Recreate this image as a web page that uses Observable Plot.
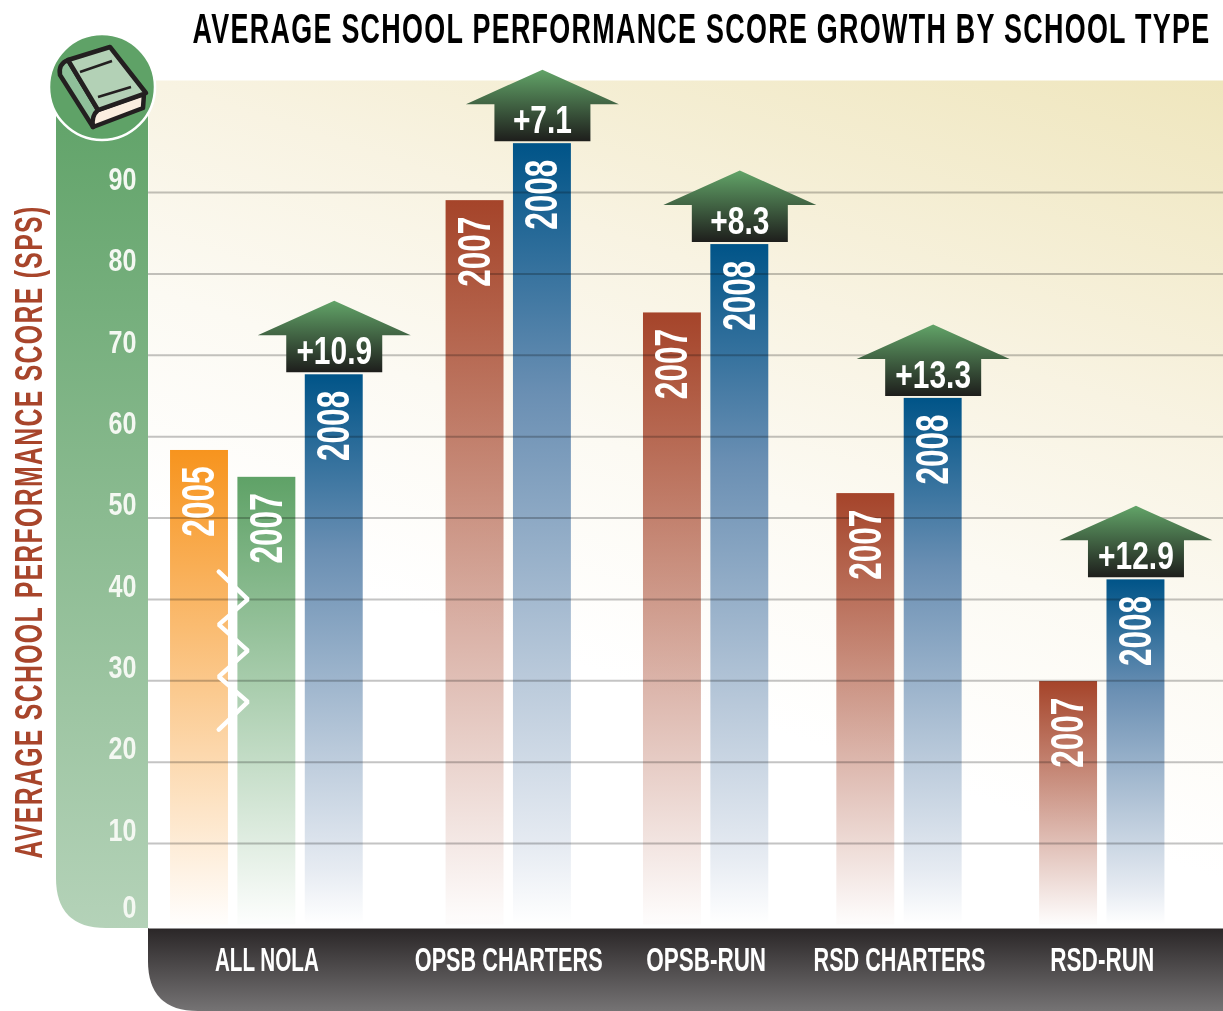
<!DOCTYPE html>
<html>
<head>
<meta charset="utf-8">
<script src="https://cdn.jsdelivr.net/npm/d3@7"></script>
<script src="https://cdn.jsdelivr.net/npm/@observablehq/plot@0.6"></script>
<style>
  html, body { margin: 0; padding: 0; background: #fff; }
  svg { display: block; }
</style>
</head>
<body>
<div id="root"></div>
<script>
// ---- chart values ----
const chartTitle = "AVERAGE SCHOOL PERFORMANCE SCORE GROWTH BY SCHOOL TYPE";
const yLabel = "AVERAGE SCHOOL PERFORMANCE SCORE (SPS)";
const categories = ["ALL NOLA", "OPSB CHARTERS", "OPSB-RUN", "RSD CHARTERS", "RSD-RUN"];
const score2005 = [58.3, null, null, null, null];
const score2007 = [55.0, 89.0, 75.2, 53.0, 29.9];
const score2008 = [67.6, 96.0, 83.6, 64.7, 42.4];
const growthLabels = ["+10.9", "+7.1", "+8.3", "+13.3", "+12.9"];
const gridTicks = [10, 20, 30, 40, 50, 60, 70, 80, 90];
// break marker between the 2005 and 2007 bars: score values of the zigzag vertices
const breakScores = [43.4, 40.0, 36.9, 33.7, 30.5, 27.4, 24.0];

// ---- layout (in units of one bar step), separate from values ----
const groupSlots = [0, 4.09, 7.02, 9.89, 12.9];
const barHalf = 0.43;
const font = "'Liberation Sans', sans-serif";

const bars = [];
categories.forEach((c, i) => {
  const years = i === 0 ? [["2005", score2005[i]], ["2007", score2007[i]], ["2008", score2008[i]]]
                        : [["2007", score2007[i]], ["2008", score2008[i]]];
  years.forEach(([year, value], k) => bars.push({
    category: c, year, value, slot: groupSlots[i] + k,
    grad: year === "2005" ? "orange" : year === "2008" ? "blue" : i === 0 ? "green" : "rust"
  }));
});
const heads = bars.filter(d => d.year === "2008").map((d, i) => ({...d, label: growthLabels[i]}));
const cats = categories.map((c, i) => {
  const g = bars.filter(d => d.category === c);
  return {c, slot: (g[0].slot + g[g.length - 1].slot) / 2};
});
const zig = breakScores.map((v, i) => ({v, slot: i % 2 ? 0.717 : 0.286}));

const NS = "http://www.w3.org/2000/svg";
function frag(tag, html) { const e = document.createElementNS(NS, tag); e.innerHTML = html; return e; }
const gradDef = (id, color) => `<linearGradient id="${id}" x1="0" y1="0" x2="0" y2="1">
  <stop offset="0" stop-color="${color}"/><stop offset="0.99" stop-color="${color}" stop-opacity="0.02"/></linearGradient>`;

const defs = () => frag("defs", `
  ${gradDef("orange", "#f7941e")}${gradDef("green", "#5fa267")}${gradDef("rust", "#a5442a")}
  <linearGradient id="blue" x1="0" y1="0" x2="0" y2="1">
    <stop offset="0" stop-color="#005488"/><stop offset="0.32" stop-color="#6a8fb3"/><stop offset="0.68" stop-color="#b9c9da"/>
    <stop offset="0.9" stop-color="#e6ebf2"/><stop offset="1" stop-color="#ffffff"/></linearGradient>
  <linearGradient id="arrow" x1="0" y1="0" x2="0" y2="1"><stop offset="0" stop-color="#62a468"/><stop offset="1" stop-color="#1e1e1c"/></linearGradient>
  <linearGradient id="panel" gradientUnits="userSpaceOnUse" x1="1223" y1="80" x2="983" y2="800">
    <stop offset="0" stop-color="#efe6bd"/><stop offset="0.447" stop-color="#f8f3e2"/><stop offset="0.71" stop-color="#fcfaf3"/><stop offset="1" stop-color="#ffffff"/></linearGradient>
  <linearGradient id="band" x1="0" y1="0" x2="0" y2="1"><stop offset="0" stop-color="#5fa267"/><stop offset="1" stop-color="#b4d2b8"/></linearGradient>
  <linearGradient id="strip" x1="0" y1="0" x2="0" y2="1"><stop offset="0" stop-color="#2a2627"/><stop offset="1" stop-color="#757374"/></linearGradient>`);

const chrome = () => frag("g", `
  <path d="M56 85H148V928H106Q56 928 56 878Z" fill="url(#band)"/>
  <path d="M148 928H1223V1011H198Q148 1011 148 961Z" fill="url(#strip)"/>`);

const icon = () => frag("g", `
  <circle cx="102" cy="87" r="53" fill="#5fa267" stroke="#fff" stroke-width="2.5"/>
  <g stroke="#231f20" stroke-width="4.5" stroke-linejoin="round" stroke-linecap="round">
    <path d="M68 60Q58 64 60 75L93 127L98 110Z" fill="#8fc09a"/>
    <path d="M98 110L144 94L143 108L93 127Q91 116 98 110Z" fill="#fbeee0"/>
    <path d="M68 60L110 47L146 93L98 110Z" fill="#b3d1b6"/>
  </g>
  <path d="M80 72L112 61M98 97L131 87" stroke="#231f20" stroke-width="2.5" fill="none"/>`);

const arrowSymbol = {
  draw(c) {
    c.moveTo(0, -74); c.lineTo(76.5, -39.5); c.lineTo(48, -39.5); c.lineTo(48, -2.5);
    c.lineTo(-48, -2.5); c.lineTo(-48, -39.5); c.lineTo(-76.5, -39.5); c.closePath();
  }
};

const barMark = (g) => Plot.rect(bars.filter(d => d.grad === g), {
  x1: d => d.slot - barHalf, x2: d => d.slot + barHalf, y1: 0, y2: "value", fill: `url(#${g})`
});

const chartEl = Plot.plot({
  width: 1223, height: 1011,
  marginLeft: 148, marginRight: 0, marginTop: 80, marginBottom: 83,
  style: {background: "transparent", overflow: "visible", fontFamily: font},
  x: {domain: [0, 14], range: [199, 1142.2], axis: null},
  y: {domain: [0, 90], range: [924.4, 192], axis: null},
  marks: [
    defs,
    chrome,
    Plot.frame({fill: "url(#panel)", stroke: null}),
    barMark("orange"), barMark("green"), barMark("blue"), barMark("rust"),
    Plot.ruleY(gridTicks, {stroke: "#c4c4c4", strokeWidth: 2, mixBlendMode: "multiply"}),
    Plot.line(zig, {x: "slot", y: "v", stroke: "#fff", strokeWidth: 4.5, strokeLinejoin: "miter"}),
    Plot.dot(heads, {x: "slot", y: "value", symbol: arrowSymbol, r: 5, fill: "url(#arrow)", stroke: "none"}),
    Plot.axisY({ticks: gridTicks, anchor: "left", tickSize: 0, tickPadding: 0, dx: -12, dy: -13, label: null,
      fill: "#f4f8f2", fontSize: 32, fontWeight: "bold", fontFamily: font}),
    Plot.axisY({ticks: [0], anchor: "left", tickSize: 0, tickPadding: 0, dx: -12, dy: -17, label: null,
      fill: "#f4f8f2", fontSize: 32, fontWeight: "bold", fontFamily: font}),
    Plot.text(bars, {x: "slot", y: "value", text: "year", rotate: -90, textAnchor: "end", dy: 16,
      fill: "#fff", fontSize: 46, fontWeight: "bold", fontFamily: font}),
    Plot.text(heads, {x: "slot", y: "value", text: "label", dy: -23,
      fill: "#fff", fontSize: 39, fontWeight: "bold", fontFamily: font}),
    Plot.text(cats, {x: "slot", text: "c", frameAnchor: "bottom", lineAnchor: "middle", dy: 32,
      fill: "#fff", fontSize: 33, fontWeight: "bold", fontFamily: font}),
    Plot.text([yLabel], {text: d => d, frameAnchor: "left", textAnchor: "middle", lineAnchor: "middle", dx: -119, dy: 27.5, rotate: -90,
      fill: "#a8452b", fontSize: 39, fontWeight: "bold", fontFamily: font}),
    Plot.text([chartTitle], {text: d => d, frameAnchor: "top-right", textAnchor: "end", lineAnchor: "middle", dx: -13, dy: -51,
      fill: "#000", fontSize: 42, fontWeight: "bold", fontFamily: font}),
    icon
  ]
});
document.getElementById("root").append(chartEl);

// condense the type along its own direction: no condensed display face is installed
const fitWidth = {
  [chartTitle]: 1018, [yLabel]: 653,
  "ALL NOLA": 104, "OPSB CHARTERS": 188, "OPSB-RUN": 120, "RSD CHARTERS": 172, "RSD-RUN": 104
};
chartEl.querySelectorAll("text").forEach(t => {
  const s = t.textContent;
  if (s === chartTitle || s === yLabel) t.style.letterSpacing = "2px";
  const w = t.getComputedTextLength();
  const k = fitWidth[s] ? fitWidth[s] / w : /^\d{4}$/.test(s) ? 0.686 : s.startsWith("+") ? 0.767 : 0.785;
  t.setAttribute("transform", (t.getAttribute("transform") || "") + ` scale(${k},1)`);
});
</script>
</body>
</html>
